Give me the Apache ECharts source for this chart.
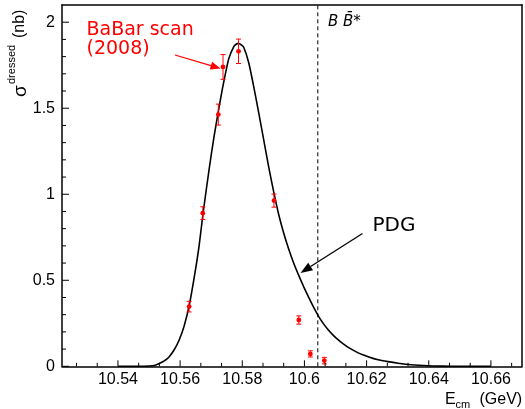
<!DOCTYPE html>
<html>
<head>
<meta charset="utf-8">
<script src="https://cdn.jsdelivr.net/npm/echarts@6/dist/echarts.min.js"></script>
<style>
html,body{margin:0;padding:0;background:#fff;}
#chart{width:525px;height:409px;}
</style>
</head>
<body>
<div id="chart"></div>
<script>
// BaBar scan (2008) data points
const scanEnergy = [10.5629, 10.5673, 10.5723, 10.5738, 10.5788, 10.5902, 10.5982, 10.6019, 10.6064];
const scanSigma  = [0.347, 0.890, 1.463, 1.740, 1.831, 0.963, 0.269, 0.072, 0.033];
const scanError  = [0.031, 0.037, 0.061, 0.072, 0.071, 0.038, 0.024, 0.018, 0.019];

// PDG line shape
const pdgEnergy = [10.5400, 10.5469, 10.5501, 10.5517, 10.5533, 10.5549, 10.5565, 10.5581, 10.5597, 10.5613,
                   10.5629, 10.5645, 10.5661, 10.5674, 10.5693, 10.5709, 10.5725, 10.5736, 10.5747, 10.5757,
                   10.5773, 10.5780, 10.5788, 10.5796, 10.5805, 10.5821, 10.5837, 10.5853, 10.5869, 10.5885,
                   10.5901, 10.5917, 10.5933, 10.5949, 10.5965, 10.5981, 10.5997, 10.6013, 10.6029, 10.6045,
                   10.6061, 10.6077, 10.6093, 10.6109, 10.6125, 10.6141, 10.6173, 10.6205, 10.6237, 10.6269,
                   10.6301, 10.6343, 10.6397, 10.6445, 10.6493, 10.6600];
const pdgSigma  = [0, 0, 0.002, 0.005, 0.016, 0.031, 0.056, 0.096, 0.153, 0.234,
                   0.351, 0.512, 0.699, 0.891, 1.141, 1.333, 1.502, 1.612, 1.711, 1.790,
                   1.859, 1.872, 1.877, 1.869, 1.853, 1.763, 1.624, 1.473, 1.316, 1.159,
                   1.015, 0.884, 0.776, 0.683, 0.602, 0.531, 0.465, 0.403, 0.345, 0.292,
                   0.248, 0.211, 0.180, 0.153, 0.130, 0.110, 0.078, 0.056, 0.038, 0.027,
                   0.018, 0.009, 0.003, 0.001, 0, 0];

// B B-bar* threshold
const thresholdEnergy = 10.6043;

// axis ranges and tick values
const xRange = [10.522, 10.67];
const yRange = [0, 2.1];
const yStep = 0.5;
const xMajorTicks = [10.54, 10.56, 10.58, 10.60, 10.62, 10.64, 10.66];
const xMinorPerMajor = 3;
const yMajorTicks = [0, 0.5, 1, 1.5, 2];
const yMinorPerMajor = 5;

const chart = echarts.init(document.getElementById('chart'), null, {renderer: 'canvas'});

const scanData = scanEnergy.map((e, i) => [e, scanSigma[i], scanError[i]]);
const pdgData = pdgEnergy.map((e, i) => [e, pdgSigma[i]]);
const thresholdData = [[thresholdEnergy, yRange[0]], [thresholdEnergy, yRange[1]]];

// inside tick marks: [value, length(px), axis (0 = x, 1 = y)]
const tickData = [];
const xMajStep = xMajorTicks[1] - xMajorTicks[0];
xMajorTicks.forEach(v => tickData.push([v, 6, 0]));
for (let k = -1; k < xMajorTicks.length; k++) {
  const base = xMajorTicks[0] + k * xMajStep;
  for (let j = 1; j < xMinorPerMajor; j++) {
    const v = base + j * xMajStep / xMinorPerMajor;
    if (v > xRange[0] && v < xRange[1]) tickData.push([v, 3.5, 0]);
  }
}
yMajorTicks.forEach(v => tickData.push([v, 7, 1]));
for (let k = 0; k < yMajorTicks.length; k++) {
  const base = yMajorTicks[k];
  for (let j = 1; j < yMinorPerMajor; j++) {
    const v = base + j * yStep / yMinorPerMajor;
    if (v > yRange[0] && v < yRange[1] - 1e-9) tickData.push([v, 4, 1]);
  }
}

const AX_FONT = 'Liberation Sans';
const ANN_FONT = 'DejaVu Sans';

function arrow(x1, y1, x2, y2, color, headLen, headW) {
  const dx = x2 - x1, dy = y2 - y1;
  const L = Math.sqrt(dx * dx + dy * dy);
  const ux = dx / L, uy = dy / L;
  const bx = x2 - ux * headLen, by = y2 - uy * headLen;
  const px = -uy * headW, py = ux * headW;
  return [
    {type: 'line', shape: {x1: x1, y1: y1, x2: bx, y2: by}, style: {stroke: color, lineWidth: 1.3}, z: 100},
    {type: 'polygon', shape: {points: [[x2, y2], [bx + px, by + py], [bx - px, by - py]]}, style: {fill: color}, z: 100}
  ];
}

const frameAxis = {
  axisLine: {show: true, onZero: false, lineStyle: {color: '#000', width: 1.5}},
  axisTick: {show: false},
  minorTick: {show: false},
  axisLabel: {show: false},
  splitLine: {show: false}
};

const textGraphics = [
  // y-axis title (rotated)
  {type: 'text', x: 21, y: 97, rotation: Math.PI / 2,
   style: {text: 'σ', font: '19px ' + AX_FONT, fill: '#000', align: 'left', verticalAlign: 'middle'}},
  {type: 'text', x: 12, y: 84, rotation: Math.PI / 2,
   style: {text: 'dressed', font: '11px ' + AX_FONT, fill: '#000', align: 'left', verticalAlign: 'middle'}},
  {type: 'text', x: 20, y: 38, rotation: Math.PI / 2,
   style: {text: '(nb)', font: '16px ' + AX_FONT, fill: '#000', align: 'left', verticalAlign: 'middle'}},
  // x-axis title
  {type: 'text', x: 445, y: 399.5,
   style: {text: 'E', font: '16px ' + AX_FONT, fill: '#000', align: 'left', verticalAlign: 'middle'}},
  {type: 'text', x: 455.5, y: 405,
   style: {text: 'cm', font: '11px ' + AX_FONT, fill: '#000', align: 'left', verticalAlign: 'middle'}},
  {type: 'text', x: 479.5, y: 399.5,
   style: {text: '(GeV)', font: '16px ' + AX_FONT, fill: '#000', align: 'left', verticalAlign: 'middle'}},
  // threshold label
  {type: 'text', x: 328, y: 22,
   style: {text: 'B B\u0304*', font: 'italic 15px ' + ANN_FONT, fill: '#000', align: 'left', verticalAlign: 'middle'}},
  // BaBar annotation
  {type: 'text', x: 86.5, y: 30,
   style: {text: 'BaBar scan', font: '19px ' + ANN_FONT, fill: '#ff0000', align: 'left', verticalAlign: 'middle'}},
  {type: 'text', x: 86.5, y: 49.5,
   style: {text: '(2008)', font: '19px ' + ANN_FONT, fill: '#ff0000', align: 'left', verticalAlign: 'middle'}},
  // PDG annotation
  {type: 'text', x: 372.5, y: 226,
   style: {text: 'PDG', font: '20px ' + ANN_FONT, fill: '#000', align: 'left', verticalAlign: 'middle'}},
  ...arrow(175, 55, 220.5, 68.5, '#ff0000', 10, 4),
  ...arrow(362.5, 233.5, 300.5, 273, '#000', 12, 4.5)
];

const option = {
  animation: false,
  backgroundColor: '#fff',
  grid: {left: 62, right: 2, top: 5, bottom: 42.7, show: false},
  xAxis: [{
    type: 'value',
    min: xRange[0], max: xRange[1],
    splitNumber: 7,
    axisLine: {show: true, onZero: false, lineStyle: {color: '#000', width: 1.5}},
    axisTick: {show: false},
    minorTick: {show: false},
    splitLine: {show: false},
    minorSplitLine: {show: false},
    axisLabel: {
      color: '#000', fontFamily: AX_FONT, fontSize: 16, margin: 5,
      hideOverlap: false,
      formatter: v => {
        const k = v * 50;
        if (Math.abs(k - Math.round(k)) > 1e-6) return '';
        return String(+v.toFixed(2));
      }
    }
  },
  Object.assign({type: 'value', position: 'top', min: xRange[0], max: xRange[1]}, frameAxis)],
  yAxis: [{
    type: 'value',
    min: yRange[0], max: yRange[1],
    interval: yStep,
    axisLine: {show: true, onZero: false, lineStyle: {color: '#000', width: 1.5}},
    axisTick: {show: false},
    minorTick: {show: false},
    splitLine: {show: false},
    minorSplitLine: {show: false},
    axisLabel: {
      color: '#000', fontFamily: AX_FONT, fontSize: 16, margin: 7,
      hideOverlap: false,
      formatter: v => {
        const k = v / yStep;
        if (Math.abs(k - Math.round(k)) > 1e-6) return '';
        return String(+v.toFixed(1));
      }
    }
  },
  Object.assign({type: 'value', position: 'right', min: yRange[0], max: yRange[1]}, frameAxis)],
  series: [
    {
      type: 'line',
      data: pdgData,
      smooth: 0.2,
      showSymbol: false,
      symbol: 'none',
      lineStyle: {color: '#000', width: 1.6},
      z: 5
    },
    {
      type: 'line',
      data: thresholdData,
      showSymbol: false,
      symbol: 'none',
      lineStyle: {color: '#000', type: [4, 3], width: 1},
      z: 4
    },
    {
      type: 'custom',
      data: scanData,
      encode: {x: 0, y: 1},
      z: 10,
      renderItem: (params, api) => {
        const x = api.value(0), y = api.value(1), e = api.value(2);
        const p = api.coord([x, y]);
        const lo = api.coord([x, y - e]);
        const hi = api.coord([x, y + e]);
        const c = '#ff0000';
        const cap = 2.5;
        return {
          type: 'group',
          children: [
            {type: 'line', shape: {x1: p[0], y1: lo[1], x2: p[0], y2: hi[1]}, style: {stroke: c, lineWidth: 1}},
            {type: 'line', shape: {x1: p[0] - cap, y1: lo[1], x2: p[0] + cap, y2: lo[1]}, style: {stroke: c, lineWidth: 1}},
            {type: 'line', shape: {x1: p[0] - cap, y1: hi[1], x2: p[0] + cap, y2: hi[1]}, style: {stroke: c, lineWidth: 1}},
            {type: 'circle', shape: {cx: p[0], cy: p[1], r: 2.4}, style: {fill: c}}
          ]
        };
      }
    }
  ],
  graphic: textGraphics
};

chart.setOption(option);

// inside tick marks placed through the chart's own axis scales
const tickGraphics = [];
tickData.forEach(t => {
  const v = t[0], len = t[1], ax = t[2];
  if (ax === 0) {
    const p = chart.convertToPixel({gridIndex: 0}, [v, yRange[0]]);
    if (p) tickGraphics.push({type: 'line', z: 50, silent: true,
      shape: {x1: p[0], y1: p[1], x2: p[0], y2: p[1] - len}, style: {stroke: '#000', lineWidth: 1}});
  } else {
    const p = chart.convertToPixel({gridIndex: 0}, [xRange[0], v]);
    if (p) tickGraphics.push({type: 'line', z: 50, silent: true,
      shape: {x1: p[0], y1: p[1], x2: p[0] + len, y2: p[1]}, style: {stroke: '#000', lineWidth: 1}});
  }
});
chart.setOption({graphic: textGraphics.concat(tickGraphics)});
</script>
</body>
</html>
